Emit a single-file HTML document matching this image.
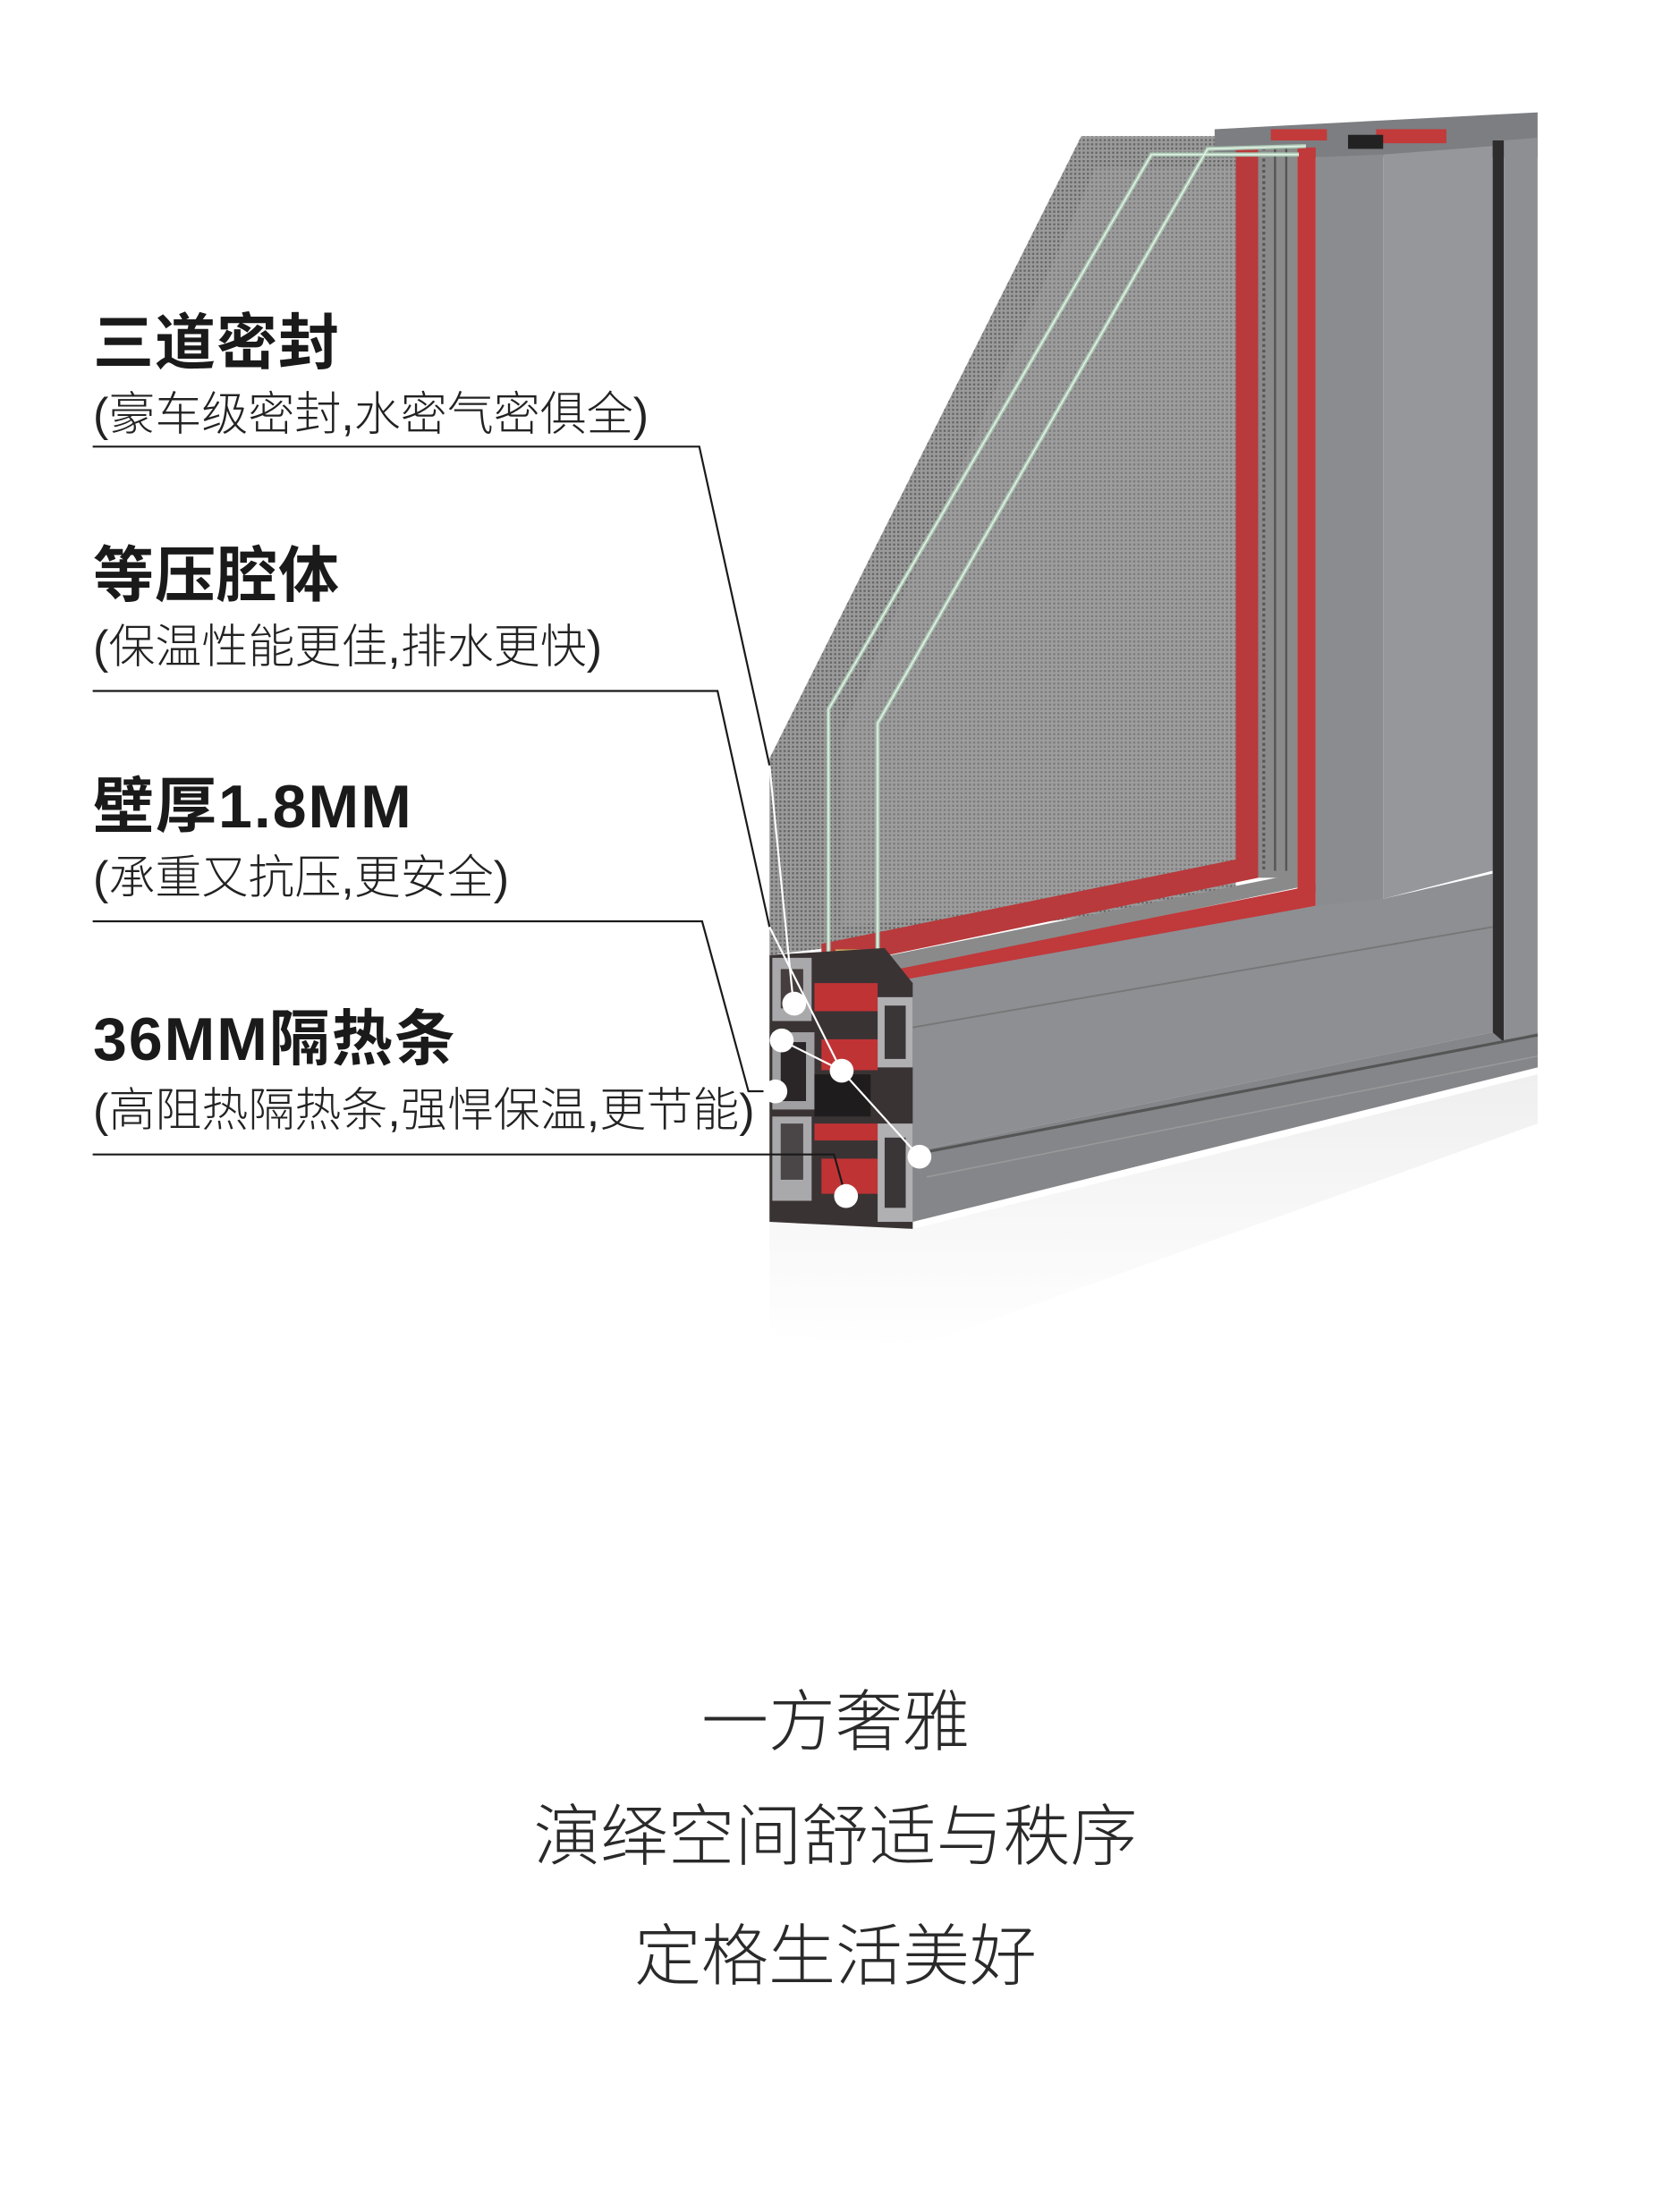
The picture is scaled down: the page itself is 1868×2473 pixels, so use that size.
<!DOCTYPE html>
<html><head><meta charset="utf-8"><style>
html,body{margin:0;padding:0;background:#fff;}
body{width:1868px;height:2473px;position:relative;overflow:hidden;font-family:"Liberation Sans","Noto Sans CJK SC",sans-serif;}
svg{position:absolute;left:0;top:0;}
.t{position:absolute;left:104px;color:#1a1a1a;font-weight:700;font-size:68px;line-height:1;white-space:nowrap;letter-spacing:1px;}
.s{position:absolute;left:104px;color:#222;font-weight:300;font-size:52px;line-height:1;white-space:nowrap;}
.b{position:absolute;left:0;width:1868px;text-align:center;color:#2a2a2a;font-weight:300;font-size:75px;line-height:1;white-space:nowrap;}
</style></head><body>
<svg width="1868" height="2473" viewBox="0 0 1190 1575" preserveAspectRatio="none">
<defs>
<pattern id="mesh" width="3" height="3" patternUnits="userSpaceOnUse">
<rect width="3" height="3" fill="#9a9a9a"/><rect width="1.5" height="1.5" fill="#666"/>
</pattern>
<linearGradient id="refl" x1="0" y1="0" x2="0" y2="1"><stop offset="0" stop-color="#e8e8e8"/><stop offset="1" stop-color="#fff"/></linearGradient>
</defs>
<polygon points="548,870 650,875 1095,765 1095,800 650,960 548,950" fill="url(#refl)" opacity="0.7"/>
<polygon points="770,97 880,97 880,640 548,680 548,540" fill="url(#mesh)"/>
<polygon points="780,120 880,120 880,630 600,660 600,520" fill="#a4a4a4" opacity="0.35"/>
<polygon points="865,92 1095,80 1095,112 865,112" fill="#7d7e82"/>
<rect x="905" y="92" width="40" height="8" fill="#c23a3a"/>
<rect x="980" y="92" width="50" height="10" fill="#c23a3a"/>
<rect x="960" y="96" width="25" height="10" fill="#222"/>
<rect x="880" y="105" width="16" height="520" fill="#b83a3c"/>
<rect x="896" y="105" width="28" height="520" fill="#8a8a8a"/>
<line x1="900" y1="105" x2="900" y2="620" stroke="#555" stroke-width="2" stroke-dasharray="2,2"/>
<line x1="908" y1="105" x2="908" y2="620" stroke="#555" stroke-width="1.5"/>
<line x1="916" y1="105" x2="916" y2="620" stroke="#555" stroke-width="1.5"/>
<rect x="924" y="105" width="13" height="530" fill="#c0393b"/>
<polygon points="585,672 880,612 896,612 896,625 585,690" fill="#b83a3c"/>
<polygon points="585,690 924,622 924,632 600,700" fill="#8a8a8a"/>
<polygon points="600,698 937,630 937,645 625,705" fill="#c0393b"/>
<polygon points="937,112 985,110 985,640 937,648" fill="#8b8c90"/>
<polygon points="985,110 1063,104 1063,620 985,640" fill="#96979b"/>
<rect x="1063" y="100" width="8" height="650" fill="#2f2c2d"/>
<polygon points="1071,100 1095,98 1095,760 1071,742" fill="#8e8f93"/>
<polygon points="630,700 937,645 985,640 1063,622 1063,735 650,820" fill="#8e8f93"/>
<polygon points="650,820 1063,735 1071,742 1095,735 1095,760 650,870" fill="#85868a"/>
<line x1="630" y1="735" x2="1063" y2="660" stroke="#777" stroke-width="1.2"/>
<line x1="650" y1="822" x2="1095" y2="737" stroke="#555" stroke-width="2"/>
<line x1="660" y1="838" x2="1095" y2="752" stroke="#999" stroke-width="1"/>
<g fill="none" stroke="#a9c7b1" stroke-width="3">
<polyline points="925,110 820,110 590,505 590,680"/>
<polyline points="930,104 860,106 625,515 625,685"/>
</g>
<g fill="none" stroke="#e4efe6" stroke-width="1">
<polyline points="925,110 820,110 590,505 590,680"/>
<polyline points="930,104 860,106 625,515 625,685"/>
</g>
<rect x="595" y="676" width="28" height="12" fill="#c9b25a"/>
<polygon points="548,680 630,675 650,700 650,875 548,870" fill="#3a3334"/>
<rect x="550" y="682" width="28" height="45" fill="#a9a9ab"/><rect x="556" y="690" width="16" height="28" fill="#453d3e"/>
<rect x="550" y="735" width="30" height="55" fill="#a0a0a2"/><rect x="556" y="742" width="18" height="42" fill="#2a2526"/>
<rect x="550" y="795" width="28" height="60" fill="#a9a9ab"/><rect x="556" y="800" width="16" height="40" fill="#4a4546"/>
<rect x="580" y="700" width="45" height="20" fill="#c03335"/>
<rect x="585" y="740" width="40" height="22" fill="#c03335"/>
<rect x="580" y="800" width="45" height="12" fill="#c03335"/>
<rect x="585" y="825" width="40" height="25" fill="#c03335"/>
<rect x="625" y="710" width="25" height="50" fill="#b0b0b2"/><rect x="630" y="716" width="15" height="38" fill="#3a3536"/>
<rect x="625" y="800" width="25" height="70" fill="#b0b0b2"/><rect x="630" y="810" width="15" height="50" fill="#3a3536"/>
<rect x="580" y="765" width="40" height="30" fill="#1e1c1d"/>
<g fill="none" stroke="#1a1a1a" stroke-width="1.4">
<polyline points="66,318 498,318 548,545"/>
<polyline points="66,492 511,492 548,660"/>
<polyline points="66,656 500,656 533,777 552,777"/>
<polyline points="66,822 594,822 602,851"/>
</g>
<g fill="none" stroke="#fff" stroke-width="1.4">
<line x1="548" y1="545" x2="565" y2="714"/>
<line x1="548" y1="660" x2="599" y2="762"/>
<line x1="557" y1="741" x2="599" y2="762"/>
<line x1="599" y1="762" x2="655" y2="824"/>
</g>
<g fill="#fff">
<circle cx="565.6" cy="714.6" r="8.5"/>
<circle cx="556.7" cy="740.8" r="8.5"/>
<circle cx="599.4" cy="762.4" r="8.5"/>
<circle cx="552.2" cy="777.1" r="8.5"/>
<circle cx="654.8" cy="823.6" r="8.5"/>
<circle cx="602.5" cy="851.6" r="8.5"/>
</g>
</svg>
<div class="t" style="top:350px">三道密封</div>
<div class="s" style="top:438px">(豪车级密封,水密气密俱全)</div>
<div class="t" style="top:610px">等压腔体</div>
<div class="s" style="top:698px">(保温性能更佳,排水更快)</div>
<div class="t" style="top:868px;letter-spacing:2px">壁厚1.8MM</div>
<div class="s" style="top:956px">(承重又抗压,更安全)</div>
<div class="t" style="top:1128px;letter-spacing:2px">36MM隔热条</div>
<div class="s" style="top:1216px">(高阻热隔热条,强悍保温,更节能)</div>
<div class="b" style="top:1888px">一方奢雅</div>
<div class="b" style="top:2016px">演绎空间舒适与秩序</div>
<div class="b" style="top:2150px">定格生活美好</div>
</body></html>
